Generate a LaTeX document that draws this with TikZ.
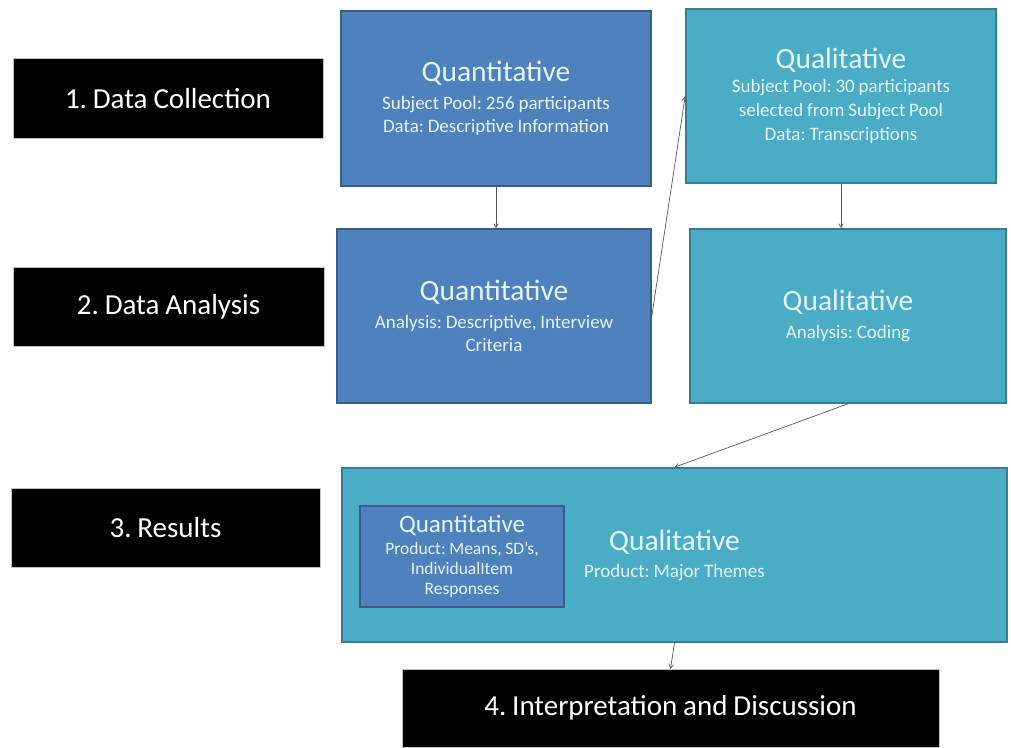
\documentclass[tikz,border=0pt]{standalone}
\usepackage{fontspec}
\setmainfont{Carlito}[WordSpace=0.9]
\usepackage{xcolor}
\usepackage{tikz}
\usetikzlibrary{arrows}
\frenchspacing

\definecolor{quantblue}{HTML}{4F81BD}
\definecolor{quantline}{HTML}{385D8A}
\definecolor{qualaqua}{HTML}{4BACC6}
\definecolor{qualline}{HTML}{357D91}
\definecolor{boxtext}{HTML}{E4F6FF}

\tikzset{
  stage/.style = {rectangle, draw = gray!50, fill = black, text = white,
                  font = \fontsize{29}{33}\selectfont},
  quantbox/.style = {rectangle, draw = quantline, line width = 1.6pt,
                     fill = quantblue, text = boxtext, align = center,
                     font = \fontsize{19}{23.5}\selectfont},
  qualbox/.style = {rectangle, draw = qualline, line width = 1.6pt,
                    fill = qualaqua, text = boxtext, align = center,
                    font = \fontsize{19}{24}\selectfont},
  link/.style = {draw = gray!70!black, line width = 0.7pt}
}

\newcommand{\boxtitle}[1]{{\fontsize{29.5}{29.5}\selectfont #1}}

\begin{document}
\begin{tikzpicture}[x=1pt, y=-1pt, >=angle 60]

    \fill[white] (0,0) rectangle (1011,747);
    \useasboundingbox (0,0) rectangle (1011,747);

    % stage labels
    \node[stage,
          minimum width = 310pt,
          minimum height = 80pt
          ] (collect) at (168,98.5) {1. Data Collection};

    \node[stage,
          minimum width = 311pt,
          minimum height = 79pt
          ] (analyse) at (168.5,306.5) {2. Data Analysis};

    \node[stage,
          minimum width = 309pt,
          minimum height = 79pt
          ] (results) at (165.5,527.5) {3. Results};

    \node[stage,
          minimum width = 537pt,
          minimum height = 78pt
          ] (interp) at (670.5,708) {4. Interpretation and Discussion};

    % quantitative strand
    \node[quantbox,
          minimum width = 310pt,
          minimum height = 175pt
          ] (quantcol) at (496,98.5)
          {\boxtitle{Quantitative}\\[4pt]
           Subject Pool: 256 participants\\
           Data: Descriptive Information};

    \node[quantbox,
          minimum width = 314pt,
          minimum height = 174pt
          ] (quantana) at (494,316)
          {\boxtitle{Quantitative}\\[4pt]
           Analysis: Descriptive, Interview\\
           Criteria};

    % qualitative strand
    \node[qualbox,
          minimum width = 310pt,
          minimum height = 174pt
          ] (qualcol) at (841,96)
          {\boxtitle{Qualitative}\\[0pt]
           Subject Pool: 30 participants\\
           selected from Subject Pool\\
           Data: Transcriptions};

    \node[qualbox,
          minimum width = 316pt,
          minimum height = 174pt
          ] (qualana) at (848,316)
          {\boxtitle{Qualitative}\\[4pt]
           Analysis: Coding};

    % merged results
    \node[qualbox,
          minimum width = 665pt,
          minimum height = 174pt
          ] (merge) at (674.5,555)
          {\boxtitle{Qualitative}\\[3pt]
           Product: Major Themes};

    \node[quantbox,
          minimum width = 204pt,
          minimum height = 101pt,
          font = \fontsize{17.5}{20}\selectfont
          ] (mergequant) at (462,556.5)
          {{\fontsize{25}{25}\selectfont Quantitative}\\[2pt]
           Product: Means, SD's,\\
           IndividualItem\\
           Responses};

    \draw[link,->] (quantcol.south) -- (quantcol.south |- quantana.north);
    \draw[link,->] (qualcol.south) -- (qualcol.south |- qualana.north);
    \draw[link,->] (quantana.east) -- (qualcol.west);
    \draw[link,->] (qualana.south) -- (merge.north);
    \draw[link,->] (merge.south) -- (interp.north);

\end{tikzpicture}
\end{document}
